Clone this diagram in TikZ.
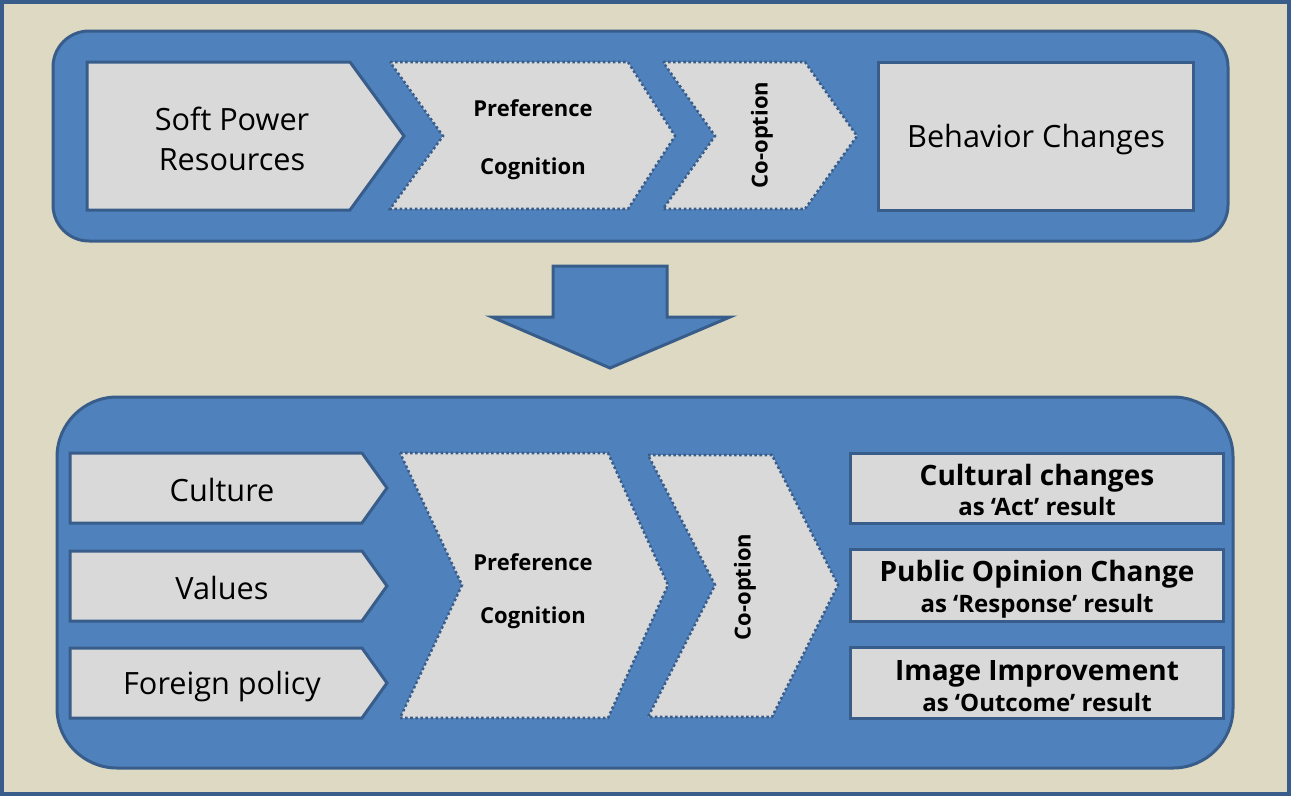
\documentclass[tikz,border=0pt]{standalone}
\usepackage{fontspec}
\setmainfont{Open Sans}

\definecolor{framebg}{HTML}{DDD9C3}
\definecolor{panelblue}{HTML}{4F81BD}
\definecolor{paneledge}{HTML}{385D8A}
\definecolor{boxgray}{HTML}{D9D9D9}

\tikzset{every picture/.style={line width=0.75pt}}
\tikzset{
  panel/.style={draw=paneledge, fill=panelblue, line width=2.25pt},
  solidbox/.style={draw=paneledge, fill=boxgray, line width=2.25pt},
  dotbox/.style={draw=paneledge, fill=boxgray, line width=1.9pt, dash pattern=on 1.9pt off 1.9pt},
  bigtext/.style={font=\fontsize{23}{30}\selectfont, align=center},
  midtext/.style={font=\bfseries\fontsize{16.5}{20}\selectfont},
  cooption/.style={font=\bfseries\fontsize{16.5}{20}\selectfont, rotate=90},
  resulttext/.style={align=center, font=\bfseries\fontsize{21}{23}\selectfont}
}
\newcommand{\resultsub}[1]{{\fontsize{18}{23}\selectfont #1}}

\begin{document}
\begin{tikzpicture}[x=0.75pt,y=0.75pt,yscale=-1,xscale=1]
	\useasboundingbox (0,0) rectangle (1291,796);

	%Shape: Frame
	\draw [draw=paneledge, fill=framebg, line width=2.5pt] (2,2) rectangle (1289,794);

	%Shape: Rounded Rect (top panel)
	\draw [panel, rounded corners=27pt] (53,31) rectangle (1228,241);
	%Shape: Pentagon
	\draw [solidbox] (87,62) -- (350,62) -- (404,136) -- (350,210) -- (87,210) -- cycle;
	%Shape: Chevron
	\draw [dotbox] (390,62) -- (628,62) -- (675,136) -- (628,209) -- (390,209) -- (443,136) -- cycle;
	%Shape: Chevron
	\draw [dotbox] (663,62) -- (805,62) -- (857,136) -- (805,209) -- (663,209) -- (715,136) -- cycle;
	%Shape: Rectangle
	\draw [solidbox] (878,62) rectangle (1193,210);

	%Shape: Down Arrow
	\draw [panel] (553,266) -- (667,266) -- (667,317) -- (730,317) -- (610,368) -- (492,317) -- (553,317) -- cycle;

	%Shape: Rounded Rect (bottom panel)
	\draw [panel, rounded corners=45pt] (57,397) rectangle (1233,768);
	%Shape: Pentagon
	\draw [solidbox] (70,453) -- (362,453) -- (387,488) -- (362,523) -- (70,523) -- cycle;
	%Shape: Pentagon
	\draw [solidbox] (70,551) -- (362,551) -- (387,586) -- (362,621) -- (70,621) -- cycle;
	%Shape: Pentagon
	\draw [solidbox] (70,648) -- (362,648) -- (387,683) -- (362,718) -- (70,718) -- cycle;
	%Shape: Chevron
	\draw [dotbox] (400,453) -- (608,453) -- (668,585) -- (608,718) -- (400,718) -- (462,585) -- cycle;
	%Shape: Chevron
	\draw [dotbox] (648,455) -- (772,455) -- (838,585) -- (772,717) -- (648,717) -- (715,585) -- cycle;
	%Shape: Rectangle
	\draw [solidbox] (850,453) rectangle (1223,523);
	%Shape: Rectangle
	\draw [solidbox] (850,549) rectangle (1223,621);
	%Shape: Rectangle
	\draw [solidbox] (850,647) rectangle (1223,718);

	% Text Node
	\node [bigtext] (resources) at (232,139) {Soft Power\\Resources};
	% Text Node
	\node [midtext] (prefTop) at (533,108) {Preference};
	% Text Node
	\node [midtext] (cogTop) at (533,169) {Cognition};
	% Text Node
	\node [cooption] (coopTop) at (762,135) {Co-option};
	% Text Node
	\node [bigtext] (behavior) at (1036,140) {Behavior Changes};

	% Text Node
	\node [bigtext] (culture) at (222,490) {Culture};
	% Text Node
	\node [bigtext] (values) at (222,588) {Values};
	% Text Node
	\node [bigtext] (policy) at (222,687) {Foreign policy};
	% Text Node
	\node [midtext] (prefBot) at (533,562) {Preference};
	% Text Node
	\node [midtext] (cogBot) at (533,618) {Cognition};
	% Text Node
	\node [cooption] (coopBot) at (745,587) {Co-option};
	% Text Node
	\node [resulttext] (actResult) at (1037,490) {Cultural changes\\\resultsub{as ‘Act’ result}};
	% Text Node
	\node [resulttext] (responseResult) at (1037,589) {Public Opinion Change\\\resultsub{as ‘Response’ result}};
	% Text Node
	\node [resulttext] (outcomeResult) at (1037,686) {Image Improvement\\\resultsub{as ‘Outcome’ result}};

\end{tikzpicture}
\end{document}
